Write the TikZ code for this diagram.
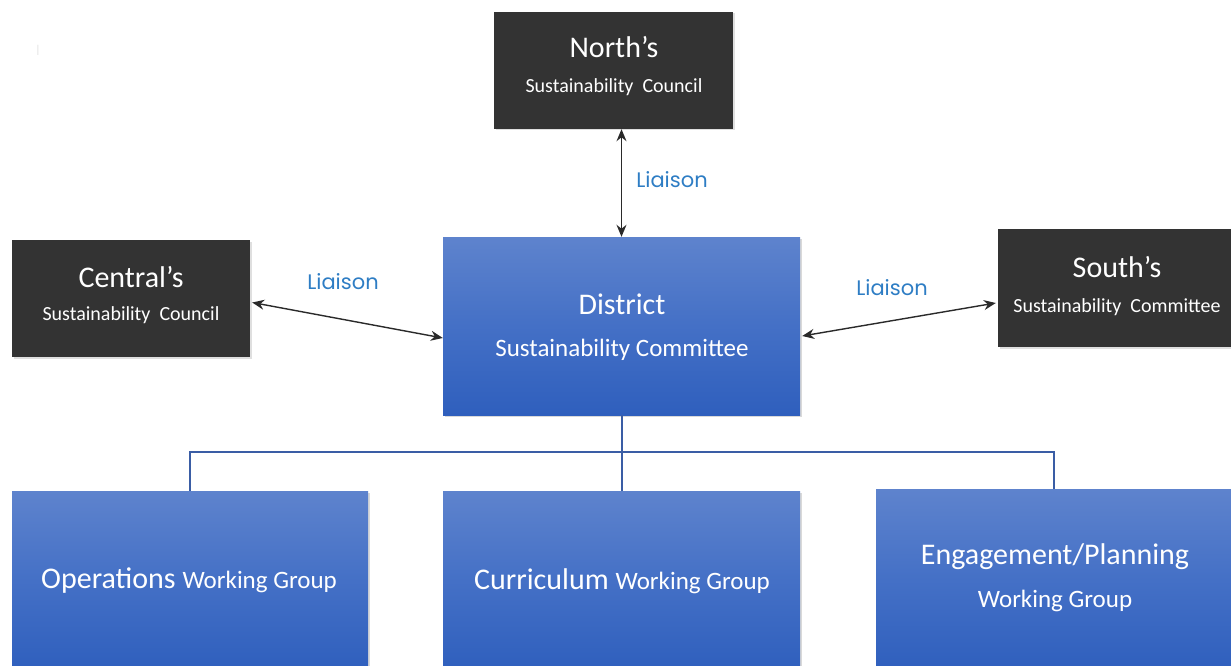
\documentclass[tikz,border=0pt]{standalone}
\usepackage{fontspec}
\setmainfont{Carlito}
\newfontfamily\pop{Poppins}
\usetikzlibrary{arrows.meta,shadows}
\definecolor{darkbox}{HTML}{333333}
\definecolor{bluetop}{HTML}{5E83CD}
\definecolor{bluemid}{HTML}{4470C6}
\definecolor{bluebot}{HTML}{2F5FBD}
\definecolor{busline}{HTML}{3A5DA5}
\definecolor{liaison}{HTML}{2E7DC4}
\definecolor{arrowc}{HTML}{2A2A2A}
\begin{document}
\begin{tikzpicture}[x=1pt,y=-1pt,
  darkstyle/.style={rectangle,fill=darkbox,inner sep=0pt,
    drop shadow={shadow xshift=1.5pt,shadow yshift=-1.5pt,opacity=0.25}},
  bluestyle/.style={rectangle,inner sep=0pt,top color=bluetop,bottom color=bluebot,middle color=bluemid,
    drop shadow={shadow xshift=2pt,shadow yshift=-2pt,opacity=0.3}},
  bigtxt/.style={text=white,inner sep=0pt,font=\fontsize{30}{36}\selectfont},
  midtxt/.style={text=white,inner sep=0pt,font=\fontsize{25}{30}\selectfont},
  smalltxt/.style={text=white,inner sep=0pt,font=\fontsize{20}{24}\selectfont},
  liaisontxt/.style={text=liaison,inner sep=0pt,font=\pop\fontsize{21}{25}\selectfont},
  liaisonarrow/.style={draw=arrowc,line width=1.4pt,{Stealth[length=12pt,width=10pt]}-{Stealth[length=12pt,width=10pt]}},
  bus/.style={draw=busline,line width=2pt}]
\useasboundingbox (0,0) rectangle (1231,666);
% boxes
\node[darkstyle,minimum width=239pt,minimum height=117pt] (north) at (613.5,70.5) {};
\node[darkstyle,minimum width=238pt,minimum height=117pt] (central) at (131,298.5) {};
\node[darkstyle,minimum width=234pt,minimum height=118pt] (south) at (1115,288) {};
\node[bluestyle,minimum width=357pt,minimum height=178pt] (district) at (621.5,326) {};
\node[bluestyle,minimum width=356pt,minimum height=180pt] (ops) at (190,581) {};
\node[bluestyle,minimum width=357pt,minimum height=180pt] (cur) at (621.5,581) {};
\node[bluestyle,minimum width=355pt,minimum height=182pt] (eng) at (1053.5,580) {};
% texts
\node[bigtxt] (northT) at (614,47) {North’s};
\node[smalltxt] (northS) at (614,87) {Sustainability\ \ Council};
\node[bigtxt] (centralT) at (131,277) {Central’s};
\node[smalltxt] (centralS) at (131,315) {Sustainability\ \ Council};
\node[bigtxt] (southT) at (1117,267) {South’s};
\node[smalltxt] (southS) at (1117,307) {Sustainability\ \ Committee};
\node[bigtxt] (districtT) at (622,304) {District};
\node[midtxt] (districtS) at (622,350) {Sustainability Committee};
\node[text=white,inner sep=0pt] (opsT) at (189,581) {\fontsize{30}{36}\selectfont Operations \fontsize{25}{30}\selectfont Working Group};
\node[text=white,inner sep=0pt] (curT) at (622,581) {\fontsize{30}{36}\selectfont Curriculum \fontsize{25}{30}\selectfont Working Group};
\node[bigtxt] (engT) at (1055,557) {Engagement/Planning};
\node[midtxt] (engS) at (1055,601) {Working Group};
% liaison labels
\node[liaisontxt] (l1) at (672,180) {Liaison};
\node[liaisontxt] (l2) at (343,282) {Liaison};
\node[liaisontxt] (l3) at (892,288) {Liaison};
% faint cursor
\node[text=black!7,inner sep=0pt,font=\fontsize{16}{18}\selectfont] (cursor) at (38,50) {I};
% arrows
\draw[liaisonarrow] (district.north |- north.south) -- (district.north);
\draw[liaisonarrow] ([xshift=2pt,yshift=-4pt]central.east) -- ([yshift=-12pt]district.west);
\draw[liaisonarrow] ([xshift=2pt,yshift=-10pt]district.east) -- ([xshift=-2pt,yshift=-15pt]south.west);
% bus
\coordinate (busmid) at ([yshift=-37pt]district.south);
\draw[bus] (district.south) -- (cur.north);
\draw[bus] (busmid) -| (ops.north);
\draw[bus] (busmid) -| (eng.north);
\end{tikzpicture}
\end{document}
